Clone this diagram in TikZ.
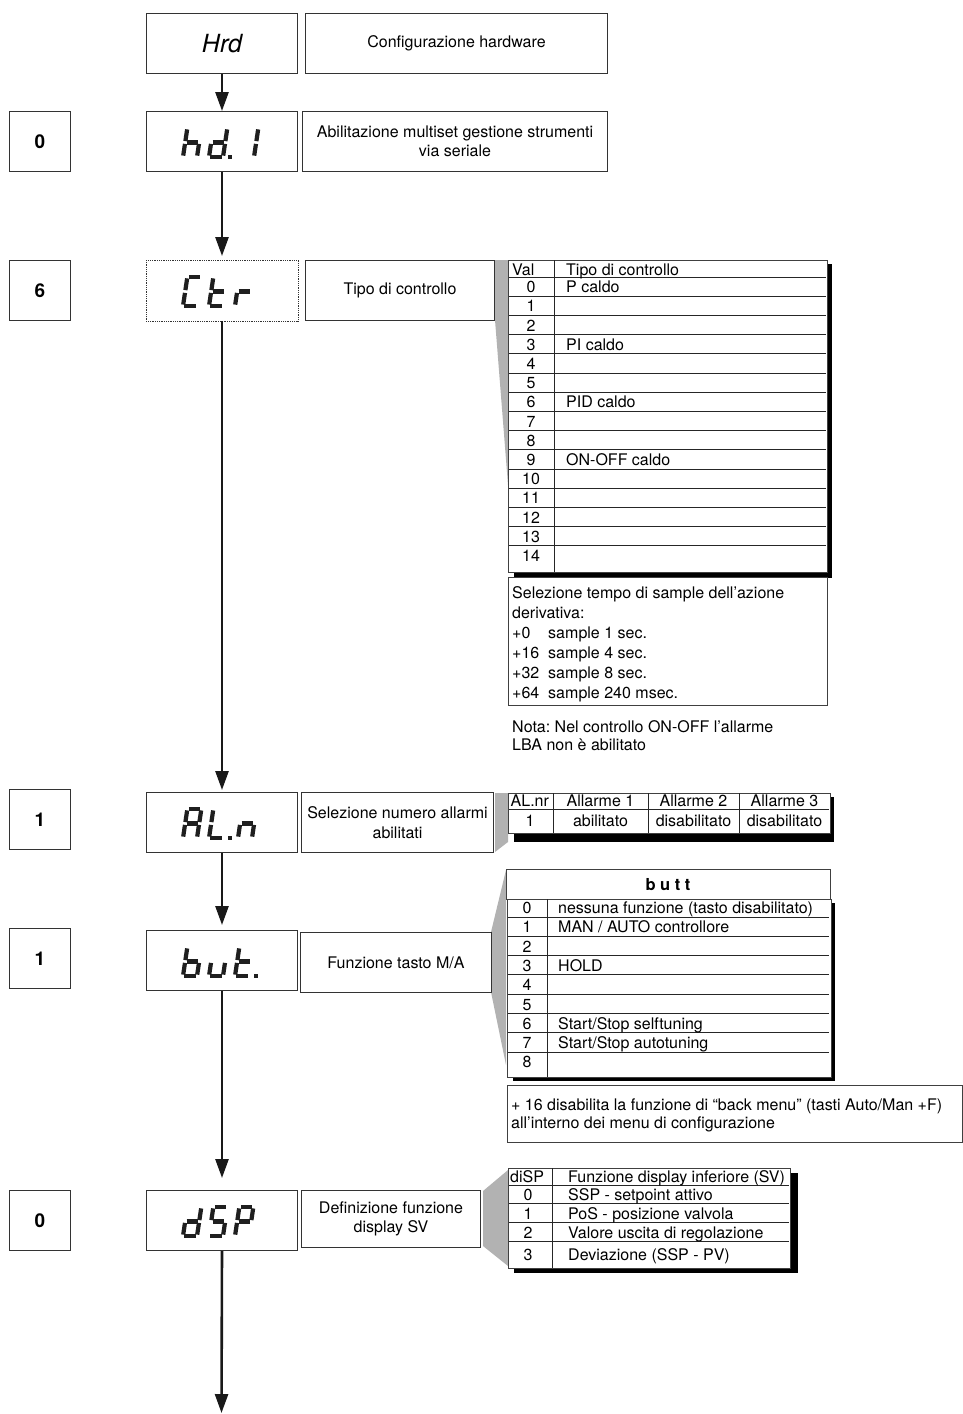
\documentclass[tikz,border=0pt]{standalone}
\usepackage{fontspec}
\setmainfont{TeX Gyre Heros}
\usetikzlibrary{arrows.meta}
\frenchspacing
\tikzset{
 bx/.style={draw=black!80, line width=1pt, inner sep=0pt, align=center, font=\fontsize{16}{19.5}\selectfont, anchor=north west, fill=white},
 disp/.style={bx, minimum width=151pt, minimum height=60pt},
 valbx/.style={bx, minimum width=61pt, minimum height=60pt, font=\fontsize{19}{22}\bfseries\selectfont},
 arr/.style={line width=2.6pt, -{Triangle[width=13pt,length=19pt]}, black!90},
 seg/.style={line width=4.2pt, black!88},
 wedge/.style={fill=black!30, draw=none},
 tbl/.style={draw=black!75, line width=0.8pt, fill=white},
 rowl/.style={line width=0.9pt, black!85},
 tt/.style={inner sep=0pt, anchor=base west, font=\fontsize{16}{19}\selectfont},
 tc/.style={inner sep=0pt, anchor=base, font=\fontsize{16}{19}\selectfont},
}
\def\spa{(1.4,-29) -- (12.6,-29)}
\def\spb{(14,-27.6) -- (14,-15.9)}
\def\spc{(14,-13.1) -- (14,-1.4)}
\def\spd{(1.4,0) -- (12.6,0)}
\def\spe{(0,-1.4) -- (0,-13.1)}
\def\spf{(0,-15.9) -- (0,-27.6)}
\def\spg{(1.4,-14.5) -- (12.6,-14.5)}
\newcommand\sevdig[3]{\begin{scope}[shift={(#1,#2)},xslant=0.15]\foreach \s in {#3}{\edef\tmp{\noexpand\draw[seg] \csname sp\s\endcsname;}\tmp}\end{scope}}
\newcommand\sevdot[2]{\fill[black!88] ({#1+18.5},{#2-2}) rectangle ({#1+22.5},{#2+2.1});}
\begin{document}
\begin{tikzpicture}[x=1pt,y=-1pt]
\useasboundingbox (0,0) rectangle (963,1414);
% ---- callout wedges
\fill[wedge] (495,260) -- (508,260) -- (508,485) -- (495,320) -- cycle;
\fill[wedge] (495,793) -- (508,793) -- (508,842) -- (495,852) -- cycle;
\fill[wedge] (491,932) -- (506,870) -- (506,1065) -- (491,992) -- cycle;
\fill[wedge] (483,1191) -- (508,1170) -- (508,1266) -- (483,1246) -- cycle;
% ---- left column value boxes
\node[valbx] (v1) at (9,111) {0};
\node[valbx] (v2) at (9,260) {6};
\node[valbx] (v3) at (9,789) {1};
\node[valbx] (v4) at (9,928) {1};
\node[valbx] (v5) at (9,1190) {0};
% ---- display boxes
\node[disp, font=\fontsize{25}{30}\itshape\selectfont] (hrd) at (146,13) {Hrd};
\node[disp] (hd1) at (146,111) {};
\node[disp, draw=none] (ctr) at (146,260) {};
\draw[black!80, line width=0.8pt, densely dotted] (ctr.north west) rectangle (ctr.south east);
\node[disp] (aln) at (146,792) {};
\node[disp] (but) at (146,930) {};
\node[disp] (dsp) at (146,1190) {};
% seven segment glyphs
\sevdig{183}{157}{f,e,g,c}\sevdig{209}{157}{b,c,d,e,g}\sevdot{209}{157}\sevdig{240}{157}{b,c}
\sevdig{183}{306}{a,f,e,d}\sevdig{209}{306}{f,e,g,d}\sevdig{235}{306}{e,g}
\sevdig{183}{838}{a,b,c,e,f,g}\sevdig{209}{838}{f,e,d}\sevdot{209}{838}\sevdig{238}{838}{e,g,c}
\sevdig{183}{976}{f,e,g,c,d}\sevdig{209}{976}{e,d,c}\sevdig{235}{976}{f,e,g,d}\sevdot{235}{976}
\sevdig{183}{1236}{b,c,d,e,g}\sevdig{209}{1236}{a,f,g,c,d}\sevdig{235}{1236}{a,b,f,g,e}
% ---- description boxes
\node[bx, minimum width=302pt, minimum height=60pt] (d0) at (305,13) {Configurazione hardware};
\node[bx, minimum width=305pt, minimum height=60pt] (d1) at (302,111) {Abilitazione multiset gestione strumenti\\via seriale};
\node[bx, minimum width=189pt, minimum height=60pt] (d2) at (305,260) {Tipo di controllo};
\node[bx, minimum width=192pt, minimum height=60pt] (d3) at (301,792) {Selezione numero allarmi\\abilitati};
\node[bx, minimum width=191pt, minimum height=60pt] (d4) at (300,932) {Funzione tasto M/A};
\node[bx, minimum width=179pt, minimum height=57pt] (d5) at (301,1190) {Definizione funzione\\display SV};
% ---- arrows
\draw[arr] (hrd.south) -- (hd1.north);
\draw[arr, shorten >=4pt] (hd1.south) -- (ctr.north);
\draw[arr, shorten >=2pt] (ctr.south) -- (aln.north);
\draw[arr, shorten >=5pt] (aln.south) -- (but.north);
\draw[arr, shorten >=12pt] (but.south) -- (dsp.north);
\coordinate (endp) at (221.5,1413);
\draw[arr] (dsp.south) -- (endp);
% ---- Ctr table
\fill[black] (514,264) rectangle (832,578);
\draw[tbl] (508,260) rectangle (827,572);
\draw[rowl] (554,260) -- (554,572);
\draw[rowl] (509,277) -- (826,277);
\foreach \i in {1,...,14} \draw[rowl] (509,{277+19.2*\i}) -- (826,{277+19.2*\i});
\node[tt] (cvh) at (512,275) {Val};
\node[tt] (cth) at (566,275) {Tipo di controllo};
\foreach \i in {0,...,14} \node[tc] (cv\i) at (531,{277+19.2*(\i+1)-3.5}) {\i};
\node[tt] (ct0) at (566,292.7) {P caldo};
\node[tt] (ct3) at (566,350.3) {PI caldo};
\node[tt] (ct6) at (566,407.9) {PID caldo};
\node[tt] (ct9) at (566,465.5) {ON-OFF caldo};
% note box
\draw[tbl] (508,577) rectangle (827,705);
\node[tt] (n1) at (512,598.5) {Selezione tempo di sample dell’azione};
\node[tt] (n2) at (512,618.5) {derivativa:};
\node[tt] (n3) at (512,638.5) {+0};
\node[tt] (n3b) at (548,638.5) {sample 1 sec.};
\node[tt] (n4) at (512,658.5) {+16};
\node[tt] (n4b) at (548,658.5) {sample 4 sec.};
\node[tt] (n5) at (512,678.5) {+32};
\node[tt] (n5b) at (548,678.5) {sample 8 sec.};
\node[tt] (n6) at (512,698.5) {+64};
\node[tt] (n6b) at (548,698.5) {sample 240 msec.};
\node[tt] (nota1) at (512,732.5) {Nota: Nel controllo ON-OFF l’allarme};
\node[tt] (nota2) at (512,750.5) {LBA non è abilitato};
% ---- AL table
\fill[black] (514,797) rectangle (834,842);
\draw[tbl] (508,793) rectangle (830,833);
\draw[rowl] (509,809) -- (829,809);
\foreach \x in {553,648,739} \draw[rowl] (\x,793) -- (\x,833);
\node[tt] (ah0) at (510.5,806) {AL.nr};
\node[tc] (ah1) at (600.5,806) {Allarme 1};
\node[tc] (ah2) at (693.5,806) {Allarme 2};
\node[tc] (ah3) at (784.5,806) {Allarme 3};
\node[tc] (ar0) at (530,826.5) {1};
\node[tc] (ar1) at (600.5,826.5) {abilitato};
\node[tc] (ar2) at (693.5,826.5) {disabilitato};
\node[tc] (ar3) at (784.5,826.5) {disabilitato};
% ---- butt table
\draw[tbl] (506,869) rectangle (830,899);
\node[tc, font=\fontsize{16.5}{19}\bfseries\selectfont] (bt) at (668,890) {b u t t};
\fill[black] (513,903) rectangle (835,1081);
\draw[tbl] (507,899) rectangle (831,1077);
\draw[rowl] (547,899) -- (547,1077);
\foreach \i in {0,...,7} \draw[rowl] (508,{917+19.3*\i}) -- (829,{917+19.3*\i});
\foreach \i in {0,...,8} \node[tc] (bv\i) at (527,{913.5+19.3*\i}) {\i};
\node[tt] (bt0) at (558,913.5) {nessuna funzione (tasto disabilitato)};
\node[tt] (bt1) at (558,932.8) {MAN / AUTO controllore};
\node[tt] (bt3) at (558,971.4) {HOLD};
\node[tt] (bt6) at (558,1029.3) {Start/Stop selftuning};
\node[tt] (bt7) at (558,1048.6) {Start/Stop autotuning};
\draw[tbl] (507,1085) rectangle (962.5,1142);
\node[tt] (bn1) at (511,1110.5) {+ 16 disabilita la funzione di “back menu” (tasti Auto/Man +F)};
\node[tt] (bn2) at (511,1128.5) {all’interno dei menu di configurazione};
% ---- dSP table
\fill[black] (514,1173) rectangle (798,1273);
\draw[tbl] (508,1168) rectangle (790,1268);
\draw[rowl] (552,1168) -- (552,1268);
\foreach \y in {1185,1203,1222,1241} \draw[rowl] (509,\y) -- (789,\y);
\node[tt] (sh0) at (510,1182.5) {diSP};
\node[tt] (sh1) at (568,1182.5) {Funzione display inferiore (SV)};
\node[tc] (sv0) at (528,1200.5) {0};
\node[tc] (sv1) at (528,1219.5) {1};
\node[tc] (sv2) at (528,1238.5) {2};
\node[tc] (sv3) at (528,1260) {3};
\node[tt] (st0) at (568,1200.5) {SSP - setpoint attivo};
\node[tt] (st1) at (568,1219.5) {PoS - posizione valvola};
\node[tt] (st2) at (568,1238.5) {Valore uscita di regolazione};
\node[tt] (st3) at (568,1260) {Deviazione (SSP - PV)};
\end{tikzpicture}
\end{document}
